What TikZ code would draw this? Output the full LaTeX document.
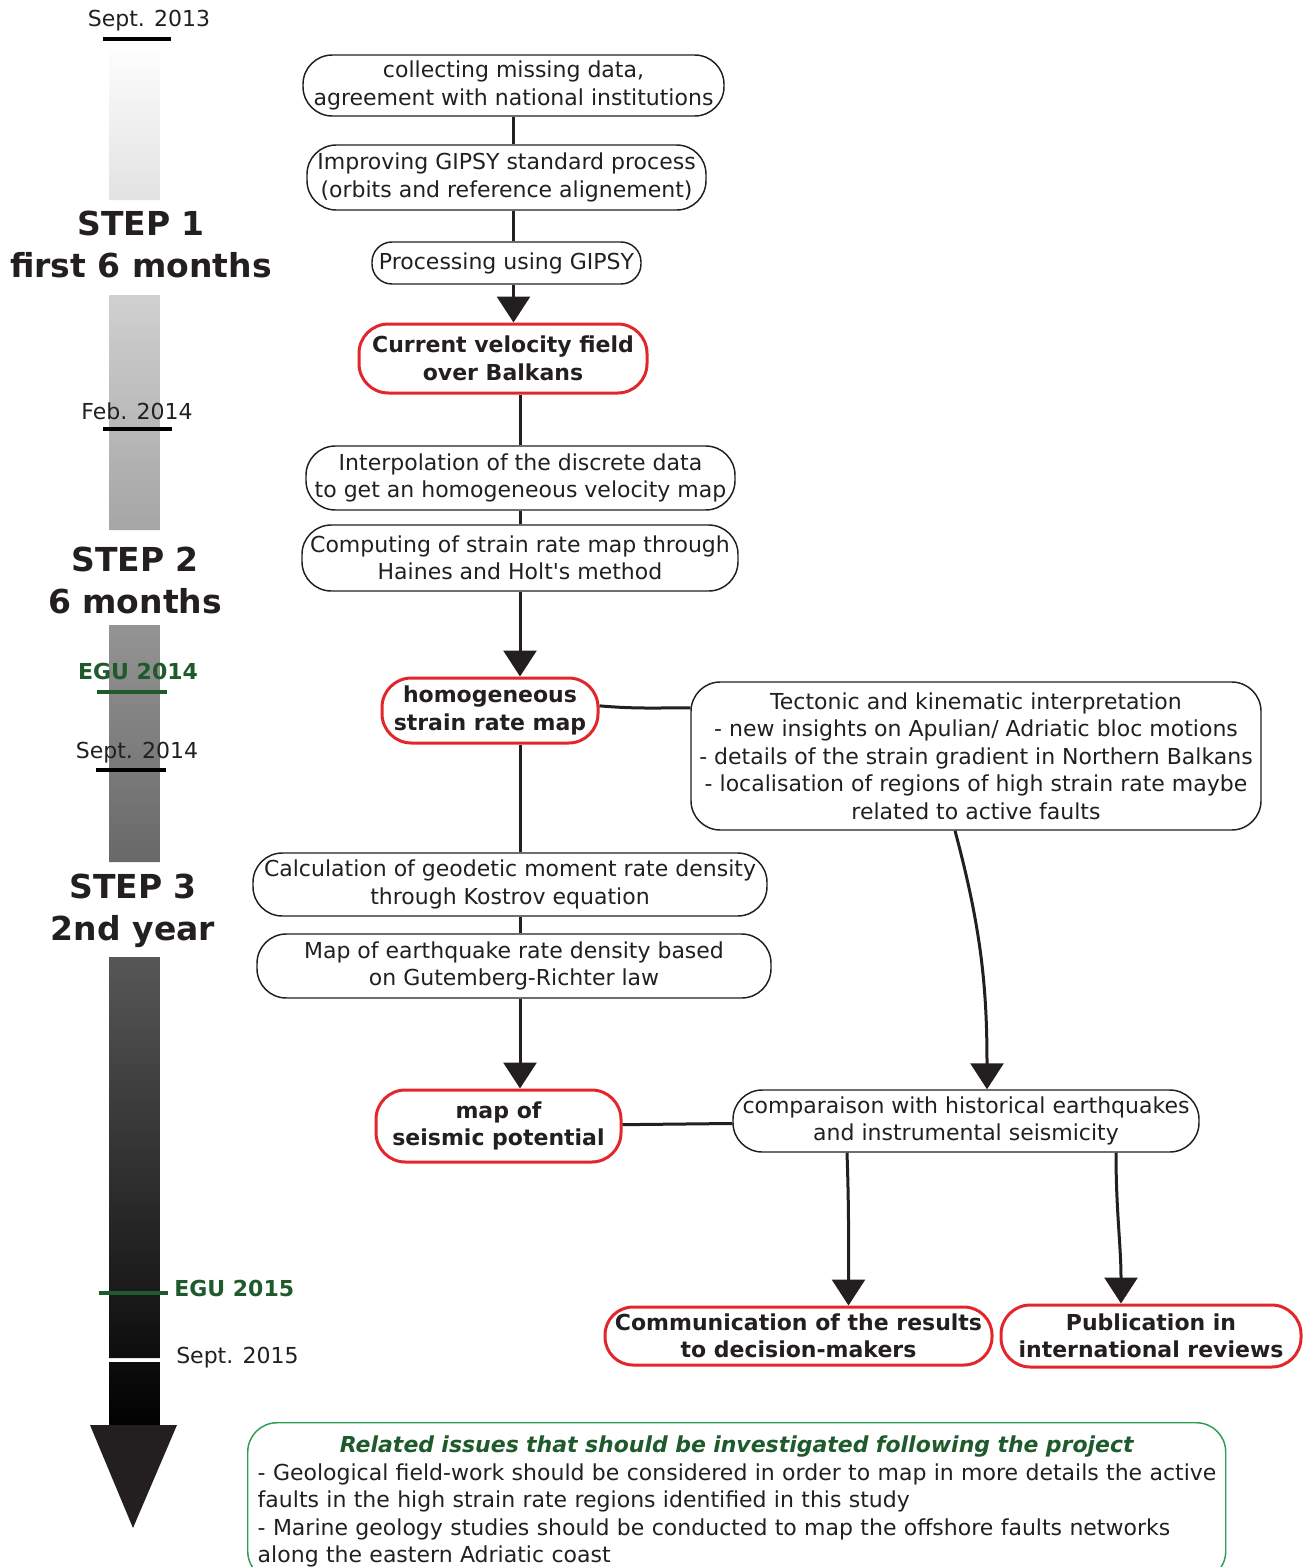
\documentclass[tikz,border=0pt]{standalone}
\usepackage{fontspec}
\setmainfont{DejaVu Sans}
\usetikzlibrary{arrows.meta}

\definecolor{ink}{HTML}{231F20}
\definecolor{keyred}{HTML}{E3262B}
\definecolor{egugreen}{HTML}{1E5A2C}
\definecolor{boxgreen}{HTML}{2E9E4F}

\newcommand{\flowfont}{\fontsize{16.5}{20.6}\selectfont}
\newcommand{\stepfont}{\fontsize{24.75}{31.5}\selectfont\bfseries}

\tikzstyle{flowbox}=[rectangle,rounded corners=22pt,draw=ink,line width=1.1pt,text=ink,align=center,inner sep=1pt,font=\flowfont]
\tikzstyle{resultbox}=[flowbox,draw=keyred,line width=2.25pt,font=\flowfont\bfseries]
\tikzstyle{notebox}=[rectangle,rounded corners=22pt,draw=boxgreen,line width=1.1pt,text=ink,align=left,font=\flowfont]
\tikzstyle{steptext}=[align=center,text=ink,font=\stepfont]
\tikzstyle{datetext}=[text=ink,font=\flowfont,inner sep=0pt]
\tikzstyle{egutext}=[text=egugreen,font=\flowfont\bfseries,inner sep=0pt]
\tikzstyle{datetick}=[line width=3pt,draw=black]
\tikzstyle{flowline}=[line width=2.25pt,draw=ink]
\tikzstyle{flowarrow}=[flowline,-{Triangle[width=24.75pt,length=19.5pt]}]

\begin{document}
\begin{tikzpicture}[x=0.75pt,y=-0.75pt]
\clip (0,0) rectangle (1313,1567);
% time bar
\begin{scope}
\clip (109,40) rectangle (160,200) (109,295) rectangle (160,530) (109,625) rectangle (160,862) (109,957) rectangle (160,1358) (109,1362) rectangle (160,1432);
\shade[top color=white,bottom color=black] (109,40) rectangle (160,1432);
\end{scope}
\fill[ink] (90,1425) -- (177,1425) -- (133,1528) -- cycle;
\draw[datetick] (103,39) -- (171,39);
\draw[datetick] (103,429) -- (172,429);
\draw[datetick,draw=egugreen] (97,692) -- (167,692);
\draw[datetick] (96,770) -- (166,770);
\draw[datetick,draw=egugreen] (99,1293) -- (168,1293);
\node(sept13)[datetext] at (149,21){Sept. 2013};
\node(feb14)[datetext] at (137,411){Feb. 2014};
\node(egu14)[egutext] at (138,671){EGU 2014};
\node(sept14)[datetext] at (137,753){Sept. 2014};
\node(egu15)[egutext,anchor=west] at (174,1288){EGU 2015};
\node(sept15)[datetext,anchor=west] at (176,1358){Sept. 2015};
\node(step1)[steptext] at (141,244){STEP 1\\first 6 months};
\node(step2)[steptext] at (135,580){STEP 2\\6 months};
\node(step3)[steptext] at (133,911){STEP 3\\2nd year};
% flow chart
\node(collect)[flowbox,minimum width=315.75pt,minimum height=45.75pt] at (513.5,85.5){collecting missing data,\\agreement with national institutions};
\node(improve)[flowbox,minimum width=299.25pt,minimum height=48.75pt] at (506.5,177.5){Improving GIPSY standard process\\(orbits and reference alignement)};
\node(process)[flowbox,rounded corners=15pt,minimum width=201.75pt,minimum height=31.5pt] at (506.5,263){Processing using GIPSY};
\node(velocity)[resultbox,minimum width=216pt,minimum height=51.75pt] at (503,358.5){Current velocity field\\over Balkans};
\node(interp)[flowbox,minimum width=321.75pt,minimum height=48pt] at (520.5,478){Interpolation of the discrete data\\to get an homogeneous velocity map};
\node(strain)[flowbox,minimum width=327pt,minimum height=49.5pt] at (520,558){Computing of strain rate map through\\Haines and Holt\textquotesingle s method};
\node(homog)[resultbox,minimum width=162pt,minimum height=48.75pt] at (490,710.5){homogeneous\\strain rate map};
\node(tectonic)[flowbox,minimum width=427.5pt,minimum height=111pt] at (976,756){Tectonic and kinematic interpretation\\- new insights on Apulian/ Adriatic bloc motions\\- details of the strain gradient in Northern Balkans\\- localisation of regions of high strain rate maybe\\related to active faults};
\node(kostrov)[flowbox,minimum width=385.5pt,minimum height=47.25pt] at (510,884.5){Calculation of geodetic moment rate density\\through Kostrov equation};
\node(gutenberg)[flowbox,minimum width=385.5pt,minimum height=48pt] at (514,966){Map of earthquake rate density based\\on Gutemberg-Richter law};
\node(seismic)[resultbox,minimum width=183.75pt,minimum height=54pt] at (498.5,1126){map of\\seismic potential};
\node(compare)[flowbox,minimum width=349.5pt,minimum height=46.5pt] at (966,1121){comparaison with historical earthquakes\\and instrumental seismicity};
\node(communic)[resultbox,rounded corners=21pt,minimum width=290.25pt,minimum height=43.5pt] at (798.5,1336){Communication of the results\\to decision-makers};
\node(publish)[resultbox,minimum width=225pt,minimum height=46.5pt] at (1151,1336){Publication in\\international reviews};
\node(issues)[notebox,anchor=north west,text width=718.5pt,inner xsep=7.5pt,inner ysep=10pt] at (247,1422){{\centering\bfseries\itshape\color{egugreen}Related issues that should be investigated following the project\par}\mbox{- Geological field-work should be considered in order to map in more details the active}\\\mbox{faults in the high strain rate regions identified in this study}\\\mbox{- Marine geology studies should be conducted to map the offshore faults networks}\\along the eastern Adriatic coast};
\draw[flowline](collect)--(collect |- improve.north);
\draw[flowline](improve.south -| collect)--(process.north -| collect);
\draw[flowarrow](process.south -| collect)--(velocity.north -| collect);
\draw[flowline](velocity.south -| strain)--(interp.north -| strain);
\draw[flowline](interp.south -| strain)--(strain.north);
\draw[flowarrow](strain)--(homog.north -| strain);
\draw[flowline](homog.south -| strain)--(kostrov.north -| strain);
\draw[flowline](kostrov.south -| strain)--(gutenberg.north -| strain);
\draw[flowarrow](gutenberg.south -| strain)--(seismic.north -| strain);
\draw[flowline]([yshift=3.5pt]homog.east) to[out=-5,in=180] ([yshift=2pt]tectonic.west |- homog.east);
\draw[flowarrow]([xshift=-15.75pt]tectonic.south) to[out=-75,in=90] ([xshift=15.75pt]compare.north);
\draw[flowline](seismic)--(compare);
\draw[flowarrow]([xshift=-89.25pt]compare.south) to[out=-88,in=90] ([xshift=37.5pt]communic.north);
\draw[flowarrow]([xshift=112.5pt]compare.south) to[out=-90,in=90] ([xshift=-22.5pt]publish.north);
\end{tikzpicture}
\end{document}
